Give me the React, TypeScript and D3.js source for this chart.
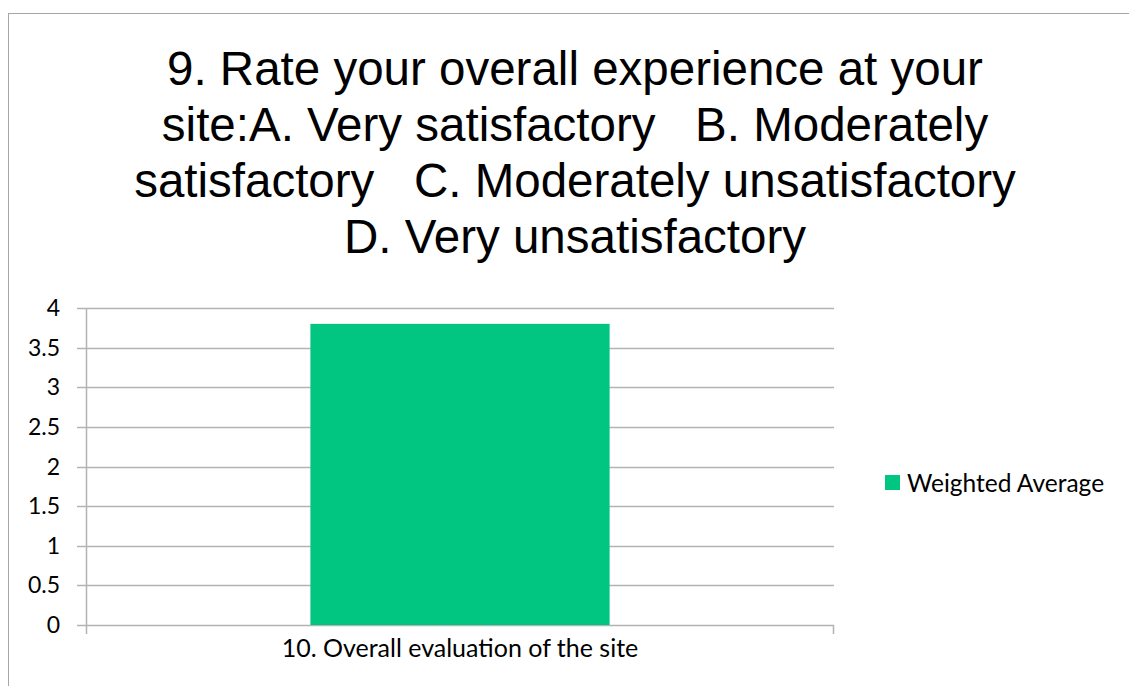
import React, { useEffect, useRef } from 'react'
import * as d3 from 'd3'

const categories = ['10. Overall evaluation of the site']
const seriesName = 'Weighted Average'
const values = [3.8]
const yTicks = [0, 0.5, 1, 1.5, 2, 2.5, 3, 3.5, 4]
const titleLines = [
  '9. Rate your overall experience at your',
  'site:A. Very satisfactory   B. Moderately',
  'satisfactory   C. Moderately unsatisfactory',
  'D. Very unsatisfactory',
]

export default function App() {
  const ref = useRef<SVGSVGElement>(null)

  useEffect(() => {
    const svg = d3.select(ref.current)
    svg.selectAll('*').remove()

    const left = 86, right = 834, top = 308, bottom = 625
    const gridColor = '#b3b3b3'
    const labelFont = 'Lato, "Open Sans", sans-serif'

    // outer frame
    svg.append('rect')
      .attr('x', 8.5).attr('y', 13.5)
      .attr('width', 1200).attr('height', 800)
      .attr('fill', 'white')
      .attr('stroke', '#a6a6a6')

    // title
    svg.append('g').selectAll('text')
      .data(titleLines)
      .enter()
      .append('text')
      .attr('x', 575)
      .attr('y', (d, i) => 85 + i * 56)
      .attr('text-anchor', 'middle')
      .style('font-family', '"Liberation Sans", Arial, sans-serif')
      .style('font-size', '47.5px')
      .style('white-space', 'pre')
      .text(d => d)

    const x = d3.scaleBand()
      .domain(categories)
      .range([left, right])
      .paddingInner(0)
      .paddingOuter(0.75)

    const y = d3.scaleLinear()
      .domain([0, 4])
      .range([bottom, top])

    // gridlines + y ticks
    svg.append('g').selectAll('line')
      .data(yTicks)
      .enter()
      .append('line')
      .attr('x1', left - 9).attr('x2', right)
      .attr('y1', d => Math.round(y(d)) + 0.5)
      .attr('y2', d => Math.round(y(d)) + 0.5)
      .attr('stroke', gridColor)
      .attr('stroke-width', 1.5)

    svg.append('g').selectAll('text')
      .data(yTicks)
      .enter()
      .append('text')
      .attr('x', 60)
      .attr('y', d => y(d))
      .attr('dy', '0.35em')
      .attr('text-anchor', 'end')
      .style('font-family', labelFont)
      .style('font-size', '23px')
      .text(d => String(d))

    // y axis line
    svg.append('line')
      .attr('x1', left + 0.5).attr('x2', left + 0.5)
      .attr('y1', top).attr('y2', bottom + 9)
      .attr('stroke', gridColor)
      .attr('stroke-width', 1.5)

    // x axis end tick
    svg.append('line')
      .attr('x1', right - 0.5).attr('x2', right - 0.5)
      .attr('y1', bottom).attr('y2', bottom + 9)
      .attr('stroke', gridColor)
      .attr('stroke-width', 1.5)

    // bars
    svg.append('g').selectAll('rect')
      .data(values)
      .enter()
      .append('rect')
      .attr('x', (d, i) => x(categories[i]) as number)
      .attr('y', d => y(d))
      .attr('width', x.bandwidth())
      .attr('height', d => y(0) - y(d))
      .attr('fill', '#00c682')

    // category labels
    svg.append('g').selectAll('text')
      .data(categories)
      .enter()
      .append('text')
      .attr('x', d => (x(d) as number) + x.bandwidth() / 2)
      .attr('y', 657)
      .attr('text-anchor', 'middle')
      .style('font-family', labelFont)
      .style('font-size', '25px')
      .text(d => d)

    // legend
    const lg = svg.append('g')
    lg.append('rect')
      .attr('x', 885).attr('y', 475)
      .attr('width', 15).attr('height', 15)
      .attr('fill', '#00c682')
    lg.append('text')
      .attr('x', 907).attr('y', 492)
      .style('font-family', labelFont)
      .style('font-size', '24.5px')
      .text(seriesName)
  }, [])

  return (
    <svg ref={ref} width={1129} height={686}
      style={{ position: 'absolute', left: 0, top: 0 }} />
  )
}
